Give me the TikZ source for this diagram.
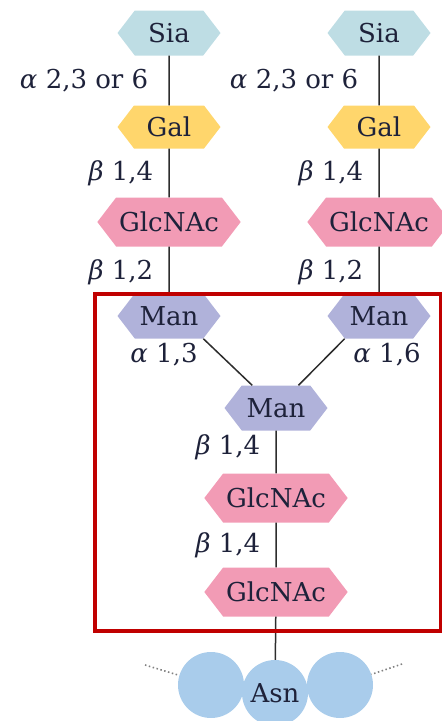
\documentclass[tikz,border=0pt]{standalone}
\usepackage{fontspec}
\setmainfont{DejaVu Serif}
\usetikzlibrary{shapes.symbols, positioning}

\definecolor{ink}{RGB}{30,34,58}
\definecolor{siacol}{RGB}{190,221,228}
\definecolor{galcol}{RGB}{255,214,108}
\definecolor{glccol}{RGB}{242,155,181}
\definecolor{mancol}{RGB}{176,178,218}
\definecolor{asncol}{RGB}{169,204,235}
\definecolor{boxred}{RGB}{192,0,0}
\definecolor{linkcol}{RGB}{45,45,45}

\begin{document}
\begin{tikzpicture}[node distance=94pt]
    \tikzstyle{sugar} = [signal, signal to=west and east, signal pointer angle=105, minimum width=103pt, minimum height=45pt, inner xsep=3pt, inner ysep=0pt, text=ink, font=\fontsize{26}{30}\selectfont]
    \tikzstyle{sia} = [sugar, fill=siacol]
    \tikzstyle{gal} = [sugar, fill=galcol, minimum height=43pt]
    \tikzstyle{glc} = [sugar, fill=glccol, minimum height=49pt]
    \tikzstyle{man} = [sugar, fill=mancol]
    \tikzstyle{residue} = [circle, fill=asncol, minimum size=66pt, inner sep=0pt, text=ink, font=\fontsize{26}{30}\selectfont]
    \tikzstyle{bond} = [left, xshift=-13pt, inner sep=2pt, text=ink, font=\fontsize{26}{30}\selectfont]
    \tikzstyle{link} = [line width=1.5pt, draw=linkcol]
    \tikzstyle{chain} = [line width=1.6pt, draw=gray, dash pattern=on 1.5pt off 2.5pt]
    \tikzstyle{corebox} = [line width=4.5pt, draw=boxred]

    \useasboundingbox (0pt,0pt) rectangle (442pt,-721pt);

    \node (sia1) [sia] at (169pt,-33pt) {Sia};
    \node (sia2) [sia, right of=sia1, xshift=116pt] {Sia};
    \node (gal1) [gal, below of=sia1] {Gal};
    \node (gal2) [gal, below of=sia2] {Gal};
    \node (glc1) [glc, below of=gal1, yshift=-1pt] {GlcNAc};
    \node (glc2) [glc, below of=gal2, yshift=-1pt] {GlcNAc};
    \node (man1) [man, below of=glc1] {Man};
    \node (man2) [man, below of=glc2] {Man};
    \node (man3) [man, below of=man1, xshift=107pt, yshift=2pt] {Man};
    \node (glc3) [glc, below of=man3, yshift=4pt] {GlcNAc};
    \node (glc4) [glc, below of=glc3] {GlcNAc};
    \node (a13) [bond, below=2pt of man1, xshift=8pt] {\textit{α} 1,3};
    \node (a16) [bond, below=2pt of man2, xshift=21pt] {\textit{α} 1,6};

    \node (res1) [residue, below of=glc4, xshift=-65pt, yshift=1pt] {};
    \node (res3) [residue, below of=glc4, xshift=64pt, yshift=1pt] {};
    \node (asn) [residue, below of=glc4, xshift=-1pt, yshift=-7pt] {Asn};
    \coordinate (chainl) at (145pt,-665pt);
    \coordinate (chainr) at (402pt,-664pt);

    \draw [link] (sia1) -- node[bond, xshift=-5pt] {\textit{α} 2,3 or 6} (gal1);
    \draw [link] (sia2) -- node[bond, xshift=-5pt] {\textit{α} 2,3 or 6} (gal2);
    \draw [link] (gal1) -- node[bond] {\textit{β} 1,4} (glc1);
    \draw [link] (gal2) -- node[bond] {\textit{β} 1,4} (glc2);
    \draw [link] (glc1) -- node[bond, yshift=-2pt] {\textit{β} 1,2} (man1);
    \draw [link] (glc2) -- node[bond, yshift=-2pt] {\textit{β} 1,2} (man2);
    \draw [link] (man3) -- (man1.south east);
    \draw [link] (man3) -- (man2.south west);
    \draw [link] (man3) -- node[bond, yshift=5pt] {\textit{β} 1,4} (glc3);
    \draw [link] (glc3) -- node[bond] {\textit{β} 1,4} (glc4);
    \draw [link] (glc4) -- (asn);
    \draw [chain] (chainl) -- (res1);
    \draw [chain] (chainr) -- (res3);

    \draw [corebox] (95pt,-294pt) rectangle (441pt,-631pt);
\end{tikzpicture}
\end{document}
